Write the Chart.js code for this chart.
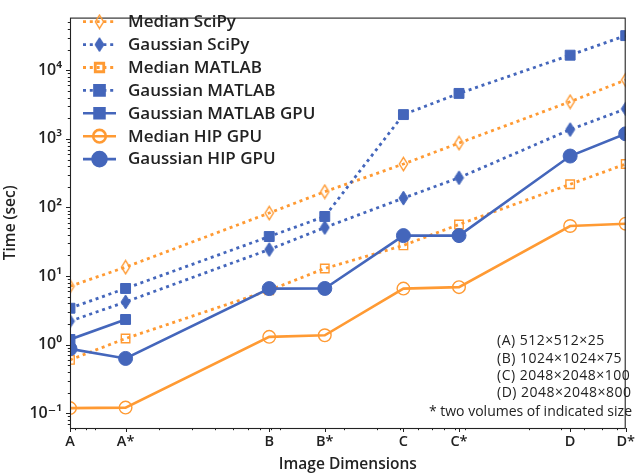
<!DOCTYPE html>
<html><head><meta charset="utf-8">
<script src="https://cdn.jsdelivr.net/npm/chart.js@4.4.0/dist/chart.umd.min.js"></script>
<style>html,body{margin:0;padding:0;background:#fff;}#wrap{width:640px;height:475px;position:relative;}</style>
</head><body><div id="wrap"><canvas id="c" width="640" height="475"></canvas></div>
<script>
// Categories (image dimensions) and their voxel counts (x positions on the log axis)
const categories = ['A', 'A*', 'B', 'B*', 'C', 'C*', 'D', 'D*'];
const voxelCounts = [6553600, 13107200, 78643200, 157286400, 419430400, 838860800, 3355443200, 6710886400];

// Series values (seconds)
const medianSciPy       = [7.1, 13.5, 83, 170, 430, 870, 3480, 7240];
const gaussianSciPy     = [2.2, 4.2, 24.4, 51, 137, 271, 1365, 2740];
const medianMATLAB      = [0.6, 1.23, 6.2, 12.9, 28, 56.6, 218, 430];
const gaussianMATLAB    = [3.4, 6.6, 37.7, 74, 2260, 4600, 16600, 32000];
const gaussianMATLABGPU = [1.19, 2.33, null, null, null, null, null, null];
const medianHIPGPU      = [0.119, 0.121, 1.30, 1.37, 6.57, 6.9, 53.7, 58];
const gaussianHIPGPU    = [0.87, 0.63, 6.57, 6.6, 38.9, 38.9, 562, 1186];

const seriesNames = ['Median SciPy', 'Gaussian SciPy', 'Median MATLAB', 'Gaussian MATLAB',
                     'Gaussian MATLAB GPU', 'Median HIP GPU', 'Gaussian HIP GPU'];

// Tick labels
const yTickValues = [0.1, 1, 10, 100, 1000, 10000];
const yTickLabels = ['10\u207B\u00B9', '10\u2070', '10\u00B9', '10\u00B2', '10\u00B3', '10\u2074'];
const noteLines = ['(A) 512\u00D7512\u00D725', '(B) 1024\u00D71024\u00D775', '(C) 2048\u00D72048\u00D7100', '(D) 2048\u00D72048\u00D7800'];
const noteFootnote = '* two volumes of indicated size';

const ORANGE = '#ff9a33';
const BLUE = '#4466bb';
const FONT = "'Open Sans', 'DejaVu Sans', sans-serif";

function diamondImg(w, h, fill, stroke, lw) {
  const c = document.createElement('canvas');
  c.width = Math.ceil(w + lw * 2); c.height = Math.ceil(h + lw * 2);
  const x = c.getContext('2d');
  x.beginPath();
  x.moveTo(c.width / 2, lw); x.lineTo(c.width - lw, c.height / 2);
  x.lineTo(c.width / 2, c.height - lw); x.lineTo(lw, c.height / 2); x.closePath();
  if (fill) { x.fillStyle = fill; x.fill(); }
  x.lineWidth = lw; x.strokeStyle = stroke; x.stroke();
  return c;
}
const openDiamond = diamondImg(8, 13, null, ORANGE, 1.4);
const fullDiamond = diamondImg(9, 14, BLUE, BLUE, 1);

function pts(arr) {
  const out = [];
  arr.forEach((v, i) => { if (v !== null) out.push({x: voxelCounts[i], y: v}); });
  return out;
}

const DOT = [3, 3.8];
const styles = [
  {color: ORANGE, dash: DOT, width: 2.8, ps: openDiamond, r: 6, bg: 'rgba(0,0,0,0)'},
  {color: BLUE, dash: DOT, width: 2.8, ps: fullDiamond, r: 6, bg: BLUE},
  {color: ORANGE, dash: DOT, width: 2.8, ps: 'rect', r: 6, bg: 'rgba(0,0,0,0)', bw: 1.4},
  {color: BLUE, dash: DOT, width: 2.8, ps: 'rect', r: 7, bg: BLUE, bw: 1},
  {color: BLUE, dash: [], width: 2.6, ps: 'rect', r: 7, bg: BLUE, bw: 1},
  {color: ORANGE, dash: [], width: 2.6, ps: 'circle', r: 6.3, bg: 'rgba(0,0,0,0)', bw: 1.4},
  {color: BLUE, dash: [], width: 2.6, ps: 'circle', r: 7, bg: BLUE, bw: 1}
];
const seriesData = [medianSciPy, gaussianSciPy, medianMATLAB, gaussianMATLAB, gaussianMATLABGPU, medianHIPGPU, gaussianHIPGPU];

const datasets = seriesData.map((d, i) => {
  const s = styles[i];
  return {
    label: seriesNames[i], data: pts(d),
    borderColor: s.color, borderDash: s.dash, borderWidth: s.width,
    pointStyle: s.ps, pointRadius: s.r, pointHoverRadius: s.r,
    pointBackgroundColor: s.bg, pointBorderColor: s.color, pointBorderWidth: s.bw || 1,
    tension: 0, fill: false, clip: 0, order: -i
  };
});

function minorVals(min, max) {
  const out = [];
  for (let e = Math.floor(Math.log10(min)); e <= Math.ceil(Math.log10(max)); e++) {
    for (let m = 2; m <= 9; m++) { const v = m * Math.pow(10, e); if (v >= min && v <= max) out.push(v); }
  }
  return out;
}

const decorPlugin = {
  id: 'decor',
  afterDraw(chart) {
    const ctx = chart.ctx, a = chart.chartArea;
    const xs = chart.scales.x, ys = chart.scales.y;
    ctx.save();
    ctx.strokeStyle = '#222'; ctx.lineWidth = 1;
    // minor ticks
    ctx.beginPath();
    minorVals(ys.min, ys.max).forEach(v => { const y = Math.round(ys.getPixelForValue(v)) + 0.5; ctx.moveTo(a.left, y); ctx.lineTo(a.left - 2.2, y); });
    minorVals(xs.min, xs.max).forEach(v => { const x = Math.round(xs.getPixelForValue(v)) + 0.5; ctx.moveTo(x, a.bottom); ctx.lineTo(x, a.bottom + 2.2); });
    ctx.stroke();
    // major ticks
    ctx.beginPath();
    yTickValues.forEach(v => { const y = Math.round(ys.getPixelForValue(v)) + 0.5; ctx.moveTo(a.left, y); ctx.lineTo(a.left - 4, y); });
    voxelCounts.forEach(v => { const x = Math.round(xs.getPixelForValue(v)) + 0.5; ctx.moveTo(x, a.bottom); ctx.lineTo(x, a.bottom + 4); });
    ctx.stroke();
    // frame
    ctx.strokeStyle = '#222'; ctx.lineWidth = 1.1;
    ctx.strokeRect(a.left + 0.5, a.top + 0.5, a.right - a.left - 1, a.bottom - a.top);

    // legend
    const rowY0 = 21.7, rowDy = 22.9;
    datasets.forEach((ds, i) => {
      const s = styles[i];
      const y = rowY0 + i * rowDy;
      ctx.save();
      ctx.beginPath();
      ctx.setLineDash(s.dash); ctx.lineWidth = s.width; ctx.strokeStyle = s.color;
      ctx.moveTo(83, y); ctx.lineTo(116, y); ctx.stroke();
      ctx.setLineDash([]);
      ctx.fillStyle = s.bg; ctx.strokeStyle = s.color;
      Chart.helpers.drawPoint(ctx, {pointStyle: s.ps, radius: s.r, rotation: 0, borderWidth: s.bw || 1}, 99.5, y);
      ctx.restore();
      ctx.fillStyle = '#222'; ctx.font = '600 17px ' + FONT; ctx.textBaseline = 'middle'; ctx.textAlign = 'left';
      ctx.fillText(ds.label, 128, y + 0.5);
    });

    // note box
    ctx.fillStyle = '#222'; ctx.font = '14px ' + FONT; ctx.textBaseline = 'middle';
    ctx.textAlign = 'left';
    ctx.letterSpacing = '0.5px';
    noteLines.forEach((t, i) => ctx.fillText(t, 497, 341.5 + i * 17.3));
    ctx.letterSpacing = '0px';
    ctx.textAlign = 'right';
    ctx.fillText(noteFootnote, 632, 412.5);
    ctx.restore();
  }
};

new Chart(document.getElementById('c'), {
  type: 'line',
  data: {datasets},
  plugins: [decorPlugin],
  options: {
    responsive: false, animation: false, devicePixelRatio: 1,
    layout: {padding: {top: 2, right: 5, left: 0, bottom: 0}},
    plugins: {legend: {display: false}, tooltip: {enabled: false}},
    elements: {line: {borderCapStyle: 'butt'}},
    scales: {
      x: {
        type: 'logarithmic', min: voxelCounts[0], max: voxelCounts[voxelCounts.length - 1],
        afterBuildTicks: sc => { sc.ticks = voxelCounts.map(v => ({value: v})); },
        afterFit: sc => { sc.height = 47; },
        grid: {display: false, drawTicks: false}, border: {display: false},
        ticks: {autoSkip: false, maxRotation: 0, padding: 5, color: '#222',
          font: {family: FONT, size: 14.5, weight: '600'},
          callback: (v, i) => categories[i]},
        title: {display: true, text: 'Image Dimensions', color: '#222',
          font: {family: FONT, size: 15.5, weight: '600'}, padding: {top: 0, bottom: 1}}
      },
      y: {
        type: 'logarithmic', min: 0.061, max: 58600,
        afterBuildTicks: sc => { sc.ticks = yTickValues.map(v => ({value: v})); },
        afterFit: sc => { sc.width = 70; },
        grid: {display: false, drawTicks: false}, border: {display: false},
        ticks: {autoSkip: false, padding: 8, color: '#222',
          font: {family: FONT, size: 16, weight: '600'},
          callback: (v, i) => yTickLabels[i]},
        title: {display: true, text: 'Time (sec)', color: '#222',
          font: {family: FONT, size: 15.5, weight: '600'}, padding: {top: 1, bottom: 0}}
      }
    }
  }
});
</script></body></html>
